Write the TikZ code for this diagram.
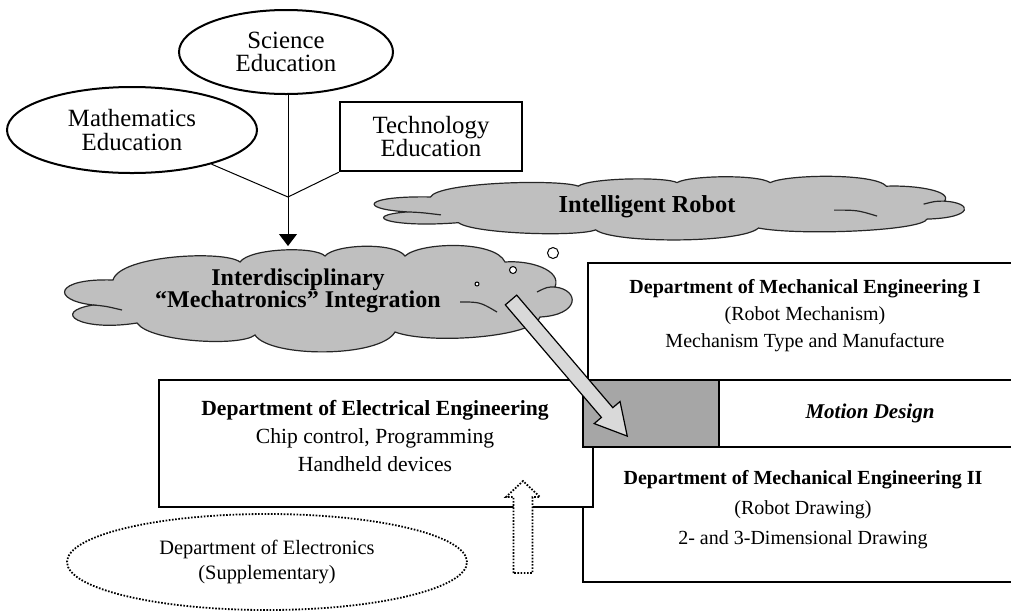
\documentclass[tikz,border=0pt]{standalone}
\usepackage{fontspec}
\setmainfont{Liberation Serif}
\usetikzlibrary{shapes.geometric,arrows.meta}
\definecolor{cloudgray}{RGB}{191,191,191}
\definecolor{boxgray}{RGB}{166,166,166}
\definecolor{arrowgray}{RGB}{217,217,217}
\tikzset{
  cloudpic/.pic={
    \filldraw[fill=cloudgray, draw=black!85, line width=0.6pt]
      (46,30) .. controls (53,5) and (158,0) .. (173,12)
      .. controls (183,-2) and (248,-4) .. (258,6)
      .. controls (268,-6) and (328,-8) .. (338,6)
      .. controls (353,-8) and (428,-10) .. (438,12)
      .. controls (463,10) and (495,20) .. (488,37)
      .. controls (513,40) and (513,65) .. (473,67)
      .. controls (468,87) and (363,95) .. (328,82)
      .. controls (313,108) and (203,108) .. (188,85)
      .. controls (173,97) and (83,92) .. (70,73)
      .. controls (13,82) and (-17,62) .. (26,55)
      .. controls (-17,50) and (-12,28) .. (46,30) -- cycle;
    \draw[draw=black!85, line width=0.6pt] (26,55) .. controls (38,56) .. (55,60);
    \draw[draw=black!85, line width=0.6pt] (393,52) .. controls (413,52) .. (430,62);
    \draw[draw=black!85, line width=0.6pt] (488,37) .. controls (480,37) .. (470,42);
  }
}
\begin{document}
\begin{tikzpicture}[x=0.5pt,y=-0.5pt,
  edu/.style={ellipse, draw, line width=1pt, inner sep=0pt, align=center},
  boxline/.style={draw, line width=0.6pt},
  conline/.style={line width=0.5pt},
  txt/.style={align=center, inner sep=0pt}
]
\useasboundingbox (0,0) rectangle (1011,612);
\clip (0,0) rectangle (1011,612);

% department boxes
\draw[boxline, fill=white] (588,263) rectangle (1030,380);
\draw[boxline, fill=white] (583,447) rectangle (1030,582);
\draw[boxline, fill=white] (159,380) rectangle (593,507);
\draw[boxline, fill=boxgray] (583,380) rectangle (719,447);
\draw[boxline, fill=white] (719,380) rectangle (1030,447);

\node[txt, font=\fontsize{10.8pt}{14pt}\selectfont] (elec) at (375,436)
  {\textbf{Department of Electrical Engineering}\\Chip control, Programming\\Handheld devices};
\node[txt, font=\fontsize{10pt}{13.5pt}\selectfont] (mech1) at (805,316)
  {\textbf{Department of Mechanical Engineering I}\\(Robot Mechanism)\\Mechanism Type and Manufacture};
\node[txt, font=\fontsize{10pt}{15pt}\selectfont] (mech2) at (803,510)
  {\textbf{Department of Mechanical Engineering II}\\(Robot Drawing)\\2- and 3-Dimensional Drawing};
\node[txt, font=\bfseries\itshape\fontsize{10.5pt}{12pt}\selectfont] (motion) at (870,413) {Motion Design};

% education nodes
\node[edu, minimum width=107pt, minimum height=42pt, font=\fontsize{12.4pt}{11.4pt}\selectfont] (sci) at (286,52) {Science\\Education};
\node[edu, minimum width=125pt, minimum height=43pt, font=\fontsize{12.4pt}{12pt}\selectfont] (math) at (132,130) {Mathematics\\Education};
\node[draw, line width=1.2pt, minimum width=91pt, minimum height=34.5pt, inner sep=0pt, align=center, font=\fontsize{12.4pt}{11.75pt}\selectfont] (tech) at (431,136.5) {Technology\\Education};

\coordinate (j) at (288,197);
\coordinate (ctop) at (288,246);
\draw[conline] (math) -- (j) -- (tech.south west);
\draw[conline, -{Triangle[width=9pt,length=6pt]}] (sci.south -| j) -- (ctop);

% clouds
\pic[xscale=1.163, yscale=0.598] at (377,179) {cloudpic};
\node[txt, font=\bfseries\fontsize{12.2pt}{14pt}\selectfont] (intel) at (647,207) {Intelligent Robot};

\pic at (67,250) {cloudpic};
\node[txt, font=\bfseries\fontsize{12pt}{11.2pt}\selectfont] (interd) at (298,291)
  {Interdisciplinary\\“Mechatronics” Integration};

% thought bubbles
\draw[fill=white, line width=0.5pt] (477,284) circle[radius=2];
\draw[fill=white, line width=0.5pt] (513,270) circle[radius=3.5];
\draw[fill=white, line width=0.5pt] (553,253) circle[radius=5.5];

% big block arrow
\begin{scope}[shift={(511,300)}, rotate=-49.5]
  \filldraw[fill=arrowgray, line width=0.6pt, line join=miter]
    (0,-7.5) -- (148,-7.5) -- (148,-17) -- (179,0) -- (148,17) -- (148,7.5) -- (0,7.5) -- cycle;
\end{scope}

% electronics
\node[ellipse, draw, dash pattern=on 0.8pt off 0.8pt, line width=0.9pt, minimum width=200pt, minimum height=48pt, inner sep=0pt, align=center, font=\fontsize{10.2pt}{12.5pt}\selectfont] (elecs) at (267,562) {Department of Electronics\\(Supplementary)};
\filldraw[fill=white, dash pattern=on 0.8pt off 0.8pt, line width=0.9pt]
  (513.5,573) -- (513.5,497) -- (506,497) -- (523,481) -- (540,497) -- (532.5,497) -- (532.5,573) -- cycle;
\end{tikzpicture}
\end{document}
